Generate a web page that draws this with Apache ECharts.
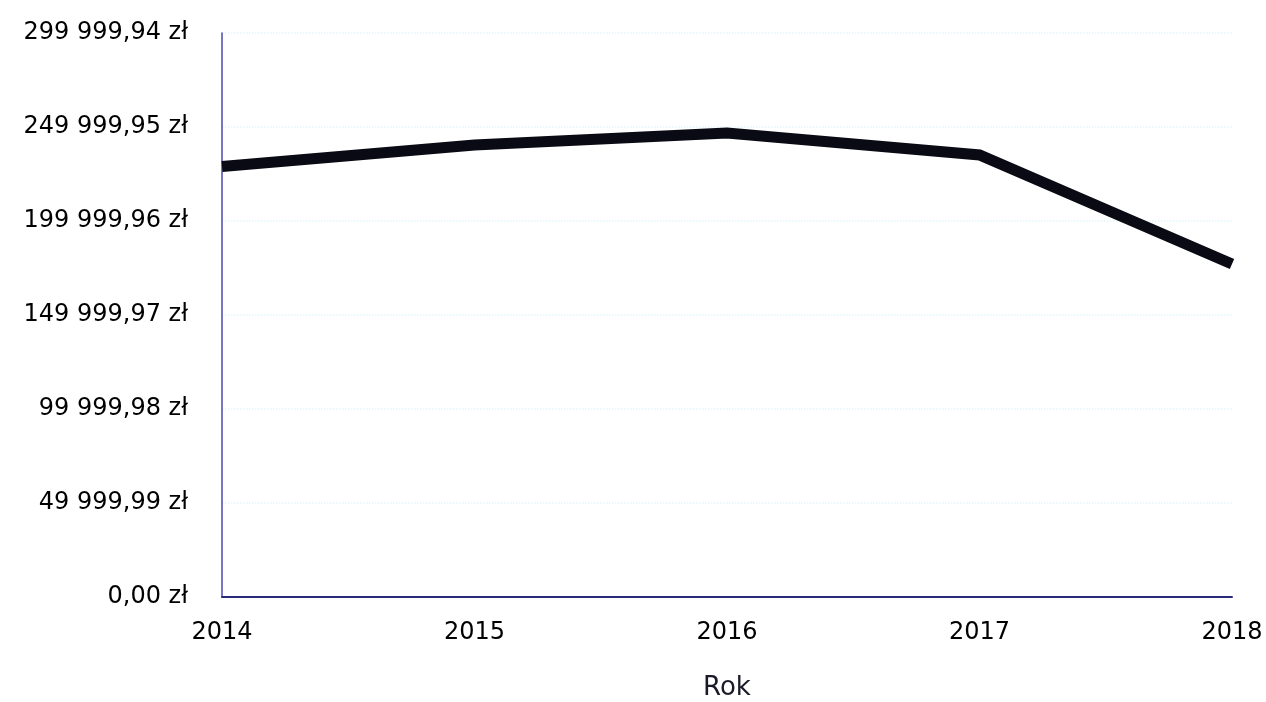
<!DOCTYPE html>
<html>
<head>
<meta charset="utf-8">
<script src="https://cdn.jsdelivr.net/npm/echarts@6/dist/echarts.min.js"></script>
<style>
html,body{margin:0;padding:0;background:#fff;}
#chart{width:1266px;height:702px;}
</style>
</head>
<body>
<div id="chart"></div>
<script>
const years = ['2014', '2015', '2016', '2017', '2018'];
const values = [229000, 240400, 246800, 235100, 177100];
const yMin = 0;
const yMax = 299999.94;
const yInterval = 49999.99;
const xAxisName = 'Rok';

function fmtPLN(v) {
  const s = Math.abs(v).toFixed(2);
  const parts = s.split('.');
  const intPart = parts[0].replace(/\B(?=(\d{3})+(?!\d))/g, ' ');
  return intPart + ',' + parts[1] + ' zł';
}

const chart = echarts.init(document.getElementById('chart'));
chart.setOption({
  backgroundColor: '#ffffff',
  animation: false,
  grid: { left: 222, right: 34, top: 33, bottom: 105, containLabel: false, outerBoundsMode: 'none' },
  xAxis: {
    type: 'category',
    data: years,
    boundaryGap: false,
    name: xAxisName,
    nameLocation: 'middle',
    nameGap: 78,
    nameTextStyle: { fontFamily: 'DejaVu Sans', fontSize: 26, color: '#1a1a2a' },
    axisLine: { show: true, lineStyle: { color: '#2a2a7a', width: 2 } },
    axisTick: { show: false },
    axisLabel: { fontFamily: 'DejaVu Sans', fontSize: 24, color: '#000', margin: 24 },
    splitLine: { show: false }
  },
  yAxis: {
    type: 'value',
    min: yMin,
    max: yMax,
    interval: yInterval,
    axisLine: { show: true, lineStyle: { color: '#4a4ab0', width: 1.5 } },
    axisTick: { show: false },
    axisLabel: {
      fontFamily: 'DejaVu Sans', fontSize: 24, color: '#000', margin: 34,
      formatter: function (v) { return fmtPLN(v); }
    },
    splitLine: { show: true, lineStyle: { color: '#e4f6fa', width: 1.5, type: 'dotted' } }
  },
  series: [{
    type: 'line',
    data: values,
    showSymbol: false,
    symbol: 'none',
    lineStyle: { color: '#0a0a14', width: 11, join: 'miter' },
    itemStyle: { color: '#0a0a14' }
  }]
});
</script>
</body>
</html>
